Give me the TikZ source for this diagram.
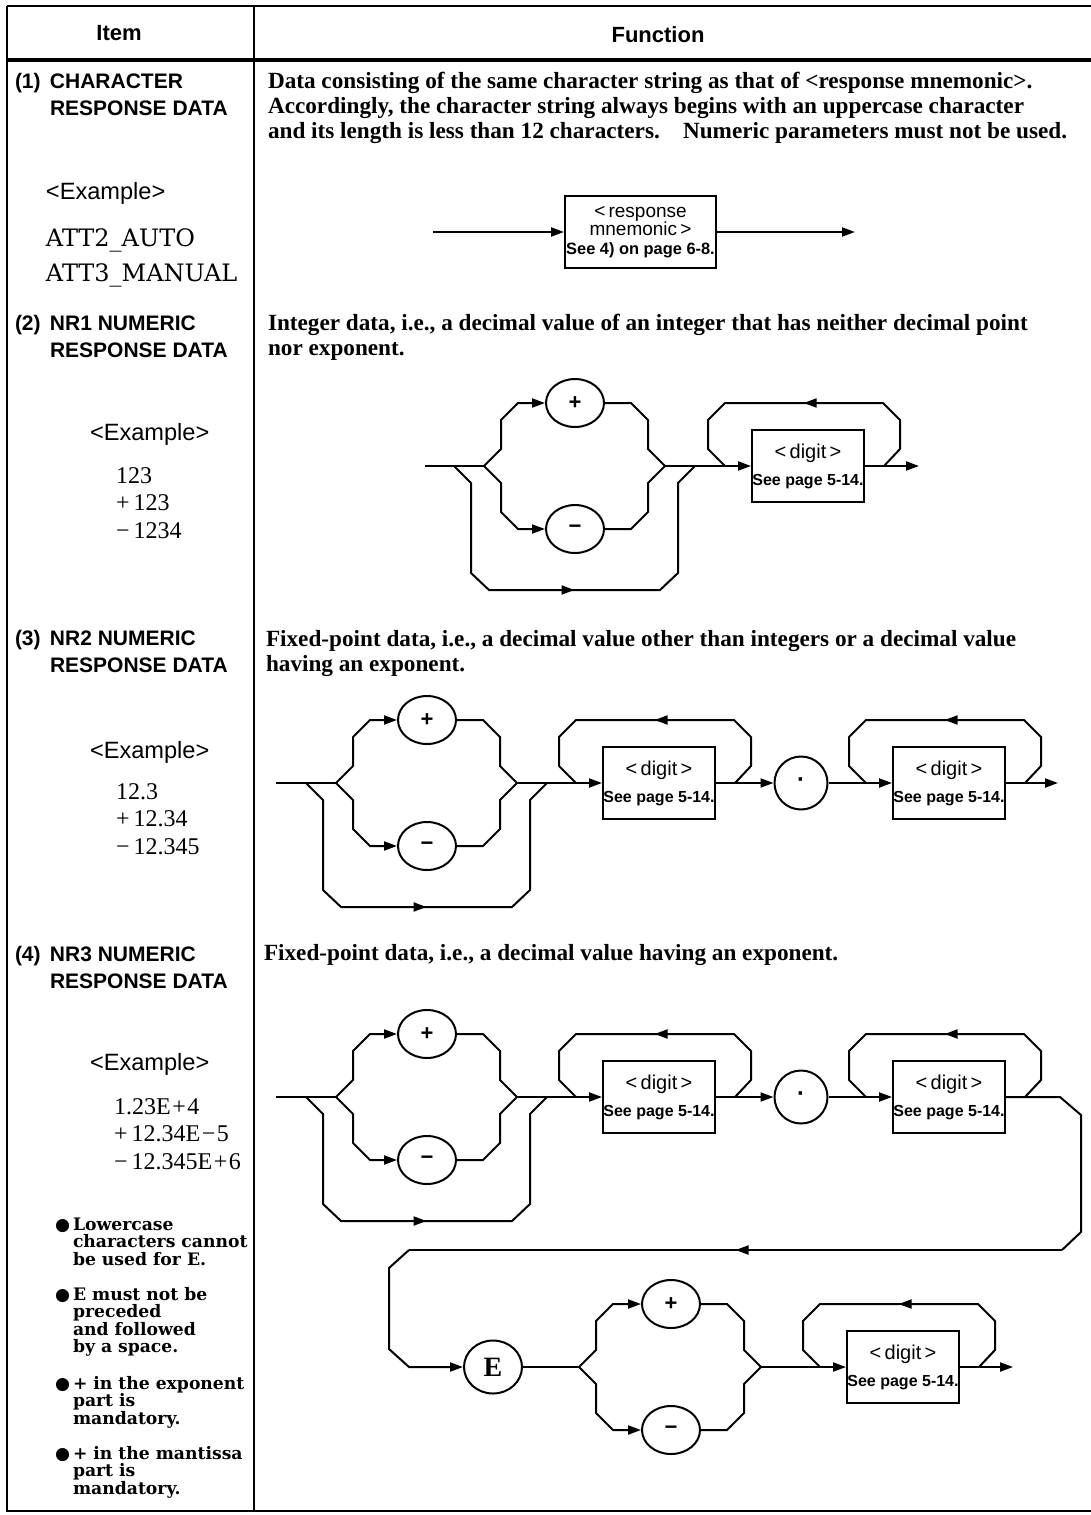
\documentclass[tikz,border=0pt]{standalone}
\usepackage{fontspec}
\setmainfont{Liberation Serif}
\setsansfont{Liberation Sans}
\newfontfamily\exfont{DejaVu Serif}
\newfontfamily\symfont{DejaVu Sans}
\usetikzlibrary{shapes.geometric, arrows.meta, decorations.markings, positioning}

\begin{document}
\begin{tikzpicture}[
  x=0.5pt, y=-0.5pt, line width=1pt,
  >={Triangle[length=6.5pt,width=4.5pt]},
  rule/.style={line width=1.1pt},
  head/.style={font=\sffamily\bfseries\fontsize{11}{12}\selectfont, inner sep=0pt},
  item/.style={font=\sffamily\bfseries\fontsize{10.5}{13.5}\selectfont,
    anchor=west, align=left, inner sep=0pt},
  example/.style={font=\sffamily\fontsize{11.8}{13}\selectfont, anchor=west, inner sep=0pt},
  value/.style={font=\fontsize{12}{13.75}\selectfont,
    anchor=west, align=left, inner sep=0pt},
  desc/.style={font=\bfseries\fontsize{11.6}{12.5}\selectfont,
    anchor=west, align=left, inner sep=0pt},
  note/.style={font=\exfont\bfseries\fontsize{8.6}{8.75}\selectfont,
    anchor=west, align=left, inner sep=0pt},
  sign/.style={draw, ellipse, minimum width=29pt, minimum height=24pt, inner sep=0pt,
    font=\sffamily\bfseries\fontsize{11}{11}\selectfont},
  dotnode/.style={draw, circle, minimum size=26.5pt, inner sep=0pt,
    font=\sffamily\bfseries\fontsize{12}{12}\selectfont},
  digitbox/.style={draw, minimum width=56pt, minimum height=36pt, inner sep=0pt,
    align=center, font=\sffamily\fontsize{10}{13.5}\selectfont},
  midarrow/.style={postaction={decorate},
    decoration={markings, mark=at position #1 with {\arrow{>}}}},
  midarrow/.default=0.5
]
\useasboundingbox (0,0) rectangle (1091,1515);

% table frame
\draw[rule] (7,6) -- (1091,6);
\draw[line width=2pt] (7,60) -- (1091,60);
\draw[rule] (7,6) -- (7,1511) -- (1091,1511);
\draw[rule] (254,6) -- (254,1511);
\node[head] (hitem) at (119,33) {Item};
\node[head] (hfunc) at (658,35) {Function};

% left column
\node[item] (i1) at (14,94.5) {\makebox[17.5pt][l]{(1)}CHARACTER\\\hspace*{17.5pt}RESPONSE DATA};
\node[example] (x1) at (45,193) {<Example>};
\node[value, font=\exfont\fontsize{12}{17.5}\selectfont] (v1) at (45,258) {ATT2\_AUTO\\ATT3\_MANUAL};

\node[item] (i2) at (14,336.5) {\makebox[17.5pt][l]{(2)}NR1 NUMERIC\\\hspace*{17.5pt}RESPONSE DATA};
\node[example] (x2) at (89,434) {<Example>};
\node[value] (v2) at (115,503) {123\\+\,123\\−\,1234};

\node[item] (i3) at (14,651.5) {\makebox[17.5pt][l]{(3)}NR2 NUMERIC\\\hspace*{17.5pt}RESPONSE DATA};
\node[example] (x3) at (89,752) {<Example>};
\node[value] (v3) at (115,819) {12.3\\+\,12.34\\−\,12.345};

\node[item] (i4) at (14,967) {\makebox[17.5pt][l]{(4)}NR3 NUMERIC\\\hspace*{17.5pt}RESPONSE DATA};
\node[example] (x4) at (89,1064) {<Example>};
\node[value] (v4) at (113,1134) {1.23E\kern.8pt+\kern.8pt4\\+\,12.34E\kern.8pt−\kern.8pt5\\−\,12.345E\kern.8pt+\kern.8pt6};

\node[note] (n1) at (72,1241.5) {\llap{{\symfont ●}\,}Lowercase\\characters cannot\\be used for E.};
\node[note] (n2) at (72,1322) {\llap{{\symfont ●}\,}E must not be\\preceded\\and followed\\by a space.};
\node[note] (n3) at (72,1402) {\llap{{\symfont ●}\,}+ in the exponent\\part is\\mandatory.};
\node[note] (n4) at (72,1472) {\llap{{\symfont ●}\,}+ in the mantissa\\part is\\mandatory.};

% right column texts
\node[desc] (d1) at (267,108) {Data consisting of the same character string as that of <response mnemonic>.\\
  Accordingly, the character string always begins with an uppercase character\\
  and its length is less than 12 characters.\quad Numeric parameters must not be used.};
\node[desc] (d2) at (267,337.5) {Integer data, i.e., a decimal value of an integer that has neither decimal point\\nor exponent.};
\node[desc] (d3) at (265,653.5) {Fixed-point data, i.e., a decimal value other than integers or a decimal value\\having an exponent.};
\node[desc] (d4) at (263,955) {Fixed-point data, i.e., a decimal value having an exponent.};

% (1) character response data
\coordinate (a-in) at (433,232);
\node[digitbox, minimum width=75.5pt, font=\sffamily\fontsize{9.5}{9.25}\selectfont] (a-resp) at (640.5,232)
  {<\,response\\mnemonic\,>\\{\bfseries\fontsize{8.2}{9}\selectfont See 4) on page 6-8.}};
\coordinate (a-out) at (855,232);
\draw[->] (a-in) -- (a-resp);
\draw[->] (a-resp) -- (a-out);

% (2) NR1
\coordinate (b-in) at (425,466);
\coordinate (b-by) at (454,466);
\coordinate (b-split) at (484,466);
\node[sign] (b-plus) at (575,403) {+};
\node[sign] (b-minus) at (575,529) {−};
\coordinate (b-join) at (665,466);
\node[digitbox] (b-digit) at (808,466) {<\,digit\,>\\{\bfseries\fontsize{8}{9}\selectfont See page 5-14.}};
\coordinate (b-out) at (919,466);
\draw (b-in) -- (b-split);
\draw[->] (b-split) -- ++(17,-17) -- ++(0,-29) -- ++(17,-17) -- (b-plus);
\draw (b-plus.east) -- ++(26,0) -- ++(17,17) -- ++(0,29) -- (b-join);
\draw[->] (b-split) -- ++(17,17) -- ++(0,29) -- ++(17,17) -- (b-minus);
\draw (b-minus.east) -- ++(26,0) -- ++(17,-17) -- ++(0,-29) -- (b-join);
\draw[midarrow] (b-by) -- ++(17,17) -- ++(0,90) -- ++(18,17) -- ++(171,0) -- ++(18,-17) -- ++(0,-90) -- ++(17,-17);
\draw[->] (b-join) -- (b-digit);
\draw[midarrow] (b-digit.east) ++(19,0) -- ++(16,-17) -- ++(0,-29) -- ++(-17,-17) -- ++(-158,0) -- ++(-17,17) -- ++(0,29) -- ++(17,17);
\draw[->] (b-digit) -- (b-out);

% (3) NR2
\coordinate (c-in) at (276,783);
\coordinate (c-by) at (306,783);
\coordinate (c-split) at (336,783);
\node[sign] (c-plus) at (427,720) {+};
\node[sign] (c-minus) at (427,846) {−};
\coordinate (c-join) at (517,783);
\node[digitbox] (c-digit1) at (659,783) {<\,digit\,>\\{\bfseries\fontsize{8}{9}\selectfont See page 5-14.}};
\node[dotnode] (c-dot) at (801,783) {·};
\node[digitbox] (c-digit2) at (949,783) {<\,digit\,>\\{\bfseries\fontsize{8}{9}\selectfont See page 5-14.}};
\coordinate (c-out) at (1058,783);
\draw (c-in) -- (c-split);
\draw[->] (c-split) -- ++(17,-17) -- ++(0,-29) -- ++(17,-17) -- (c-plus);
\draw (c-plus.east) -- ++(26,0) -- ++(17,17) -- ++(0,29) -- (c-join);
\draw[->] (c-split) -- ++(17,17) -- ++(0,29) -- ++(17,17) -- (c-minus);
\draw (c-minus.east) -- ++(26,0) -- ++(17,-17) -- ++(0,-29) -- (c-join);
\draw[midarrow] (c-by) -- ++(17,17) -- ++(0,90) -- ++(18,17) -- ++(171,0) -- ++(18,-17) -- ++(0,-90) -- ++(17,-17);
\draw[->] (c-join) -- (c-digit1);
\draw[midarrow] (c-digit1.east) ++(19,0) -- ++(16,-17) -- ++(0,-29) -- ++(-17,-17) -- ++(-158,0) -- ++(-17,17) -- ++(0,29) -- ++(17,17);
\draw[->] (c-digit1) -- (c-dot);
\draw[->] (c-dot) -- (c-digit2);
\draw[midarrow] (c-digit2.east) ++(19,0) -- ++(16,-17) -- ++(0,-29) -- ++(-17,-17) -- ++(-158,0) -- ++(-17,17) -- ++(0,29) -- ++(17,17);
\draw[->] (c-digit2) -- (c-out);

% (4) NR3, mantissa
\coordinate (d-in) at (276,1097);
\coordinate (d-by) at (306,1097);
\coordinate (d-split) at (336,1097);
\node[sign] (d-plus) at (427,1034) {+};
\node[sign] (d-minus) at (427,1160) {−};
\coordinate (d-join) at (517,1097);
\node[digitbox] (d-digit1) at (659,1097) {<\,digit\,>\\{\bfseries\fontsize{8}{9}\selectfont See page 5-14.}};
\node[dotnode] (d-dot) at (801,1097) {·};
\node[digitbox] (d-digit2) at (949,1097) {<\,digit\,>\\{\bfseries\fontsize{8}{9}\selectfont See page 5-14.}};
\coordinate (d-turn) at (1062,1250);
\coordinate (d-back) at (409,1250);
\draw (d-in) -- (d-split);
\draw[->] (d-split) -- ++(17,-17) -- ++(0,-29) -- ++(17,-17) -- (d-plus);
\draw (d-plus.east) -- ++(26,0) -- ++(17,17) -- ++(0,29) -- (d-join);
\draw[->] (d-split) -- ++(17,17) -- ++(0,29) -- ++(17,17) -- (d-minus);
\draw (d-minus.east) -- ++(26,0) -- ++(17,-17) -- ++(0,-29) -- (d-join);
\draw[midarrow] (d-by) -- ++(17,17) -- ++(0,90) -- ++(18,17) -- ++(171,0) -- ++(18,-17) -- ++(0,-90) -- ++(17,-17);
\draw[->] (d-join) -- (d-digit1);
\draw[midarrow] (d-digit1.east) ++(19,0) -- ++(16,-17) -- ++(0,-29) -- ++(-17,-17) -- ++(-158,0) -- ++(-17,17) -- ++(0,29) -- ++(17,17);
\draw[->] (d-digit1) -- (d-dot);
\draw[->] (d-dot) -- (d-digit2);
\draw[midarrow] (d-digit2.east) ++(19,0) -- ++(16,-17) -- ++(0,-29) -- ++(-17,-17) -- ++(-158,0) -- ++(-17,17) -- ++(0,29) -- ++(17,17);
\draw (d-digit2.east) -- ++(54,0) -- ++(21,18) -- ++(0,117) -- (d-turn);
\draw[midarrow] (d-turn) -- (d-back);

% (4) NR3, exponent
\node[sign, minimum height=26.5pt, font=\bfseries\fontsize{14}{14}\selectfont] (e-E) at (493,1367) {E};
\coordinate (e-split) at (579,1367);
\node[sign] (e-plus) at (671,1304) {+};
\node[sign] (e-minus) at (671,1430) {−};
\coordinate (e-join) at (761,1367);
\node[digitbox] (e-digit) at (903,1367) {<\,digit\,>\\{\bfseries\fontsize{8}{9}\selectfont See page 5-14.}};
\coordinate (e-out) at (1013,1367);
\draw[->] (d-back) -- ++(-20,18) -- ++(0,81) -- ++(20,18) -- (e-E);
\draw (e-E) -- (e-split);
\draw[->] (e-split) -- ++(17,-17) -- ++(0,-29) -- ++(17,-17) -- (e-plus);
\draw (e-plus.east) -- ++(26,0) -- ++(17,17) -- ++(0,29) -- (e-join);
\draw[->] (e-split) -- ++(17,17) -- ++(0,29) -- ++(17,17) -- (e-minus);
\draw (e-minus.east) -- ++(26,0) -- ++(17,-17) -- ++(0,-29) -- (e-join);
\draw[->] (e-join) -- (e-digit);
\draw[midarrow] (e-digit.east) ++(19,0) -- ++(16,-17) -- ++(0,-29) -- ++(-17,-17) -- ++(-158,0) -- ++(-17,17) -- ++(0,29) -- ++(17,17);
\draw[->] (e-digit) -- (e-out);
\end{tikzpicture}
\end{document}
